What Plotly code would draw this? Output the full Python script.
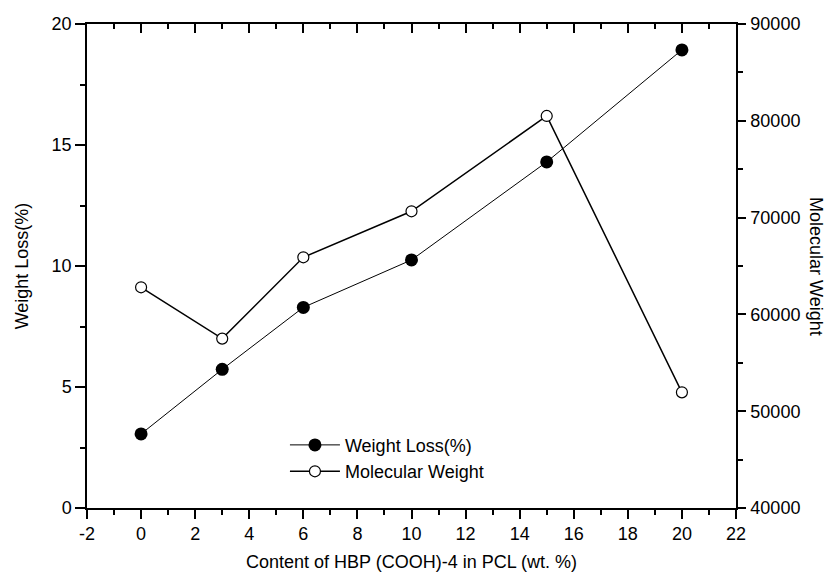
import plotly.graph_objects as go

# HBP (COOH)-4 content in PCL, wt. %
content = [0, 3, 6, 10, 15, 20]
weight_loss = [3.06, 5.73, 8.29, 10.25, 14.3, 18.93]
mol_weight = [62800, 57500, 65900, 70650, 80500, 51950]

# tick labels (plain hyphen for negatives)
x_ticks = [-2, 0, 2, 4, 6, 8, 10, 12, 14, 16, 18, 20, 22]
x_tick_text = ["-2", "0", "2", "4", "6", "8", "10", "12", "14", "16", "18", "20", "22"]
mw_ticks = [40000, 50000, 60000, 70000, 80000, 90000]
mw_tick_text = ["40000", "50000", "60000", "70000", "80000", "90000"]

FONT = "Liberation Sans, Arial, sans-serif"
TICK_FONT = dict(family=FONT, size=18, color="black")
TITLE_FONT = dict(family=FONT, size=18, color="black")
AXIS = dict(showline=True, linecolor="black", linewidth=1.5, showgrid=False,
            zeroline=False, ticks="outside", tickcolor="black", tickwidth=1.5,
            tickfont=TICK_FONT, automargin=False)

fig = go.Figure()
fig.add_trace(go.Scatter(
    x=content, y=weight_loss, name="Weight Loss(%)", mode="lines+markers",
    line=dict(color="black", width=1),
    marker=dict(symbol="circle", size=13, color="black"),
))
fig.add_trace(go.Scatter(
    x=content, y=mol_weight, name="Molecular Weight", mode="lines+markers",
    yaxis="y2",
    line=dict(color="black", width=1.5),
    marker=dict(symbol="circle", size=11, color="white",
                line=dict(color="black", width=1.2)),
))
# top frame edge with inward ticks
fig.add_trace(go.Scatter(x=[None], y=[None], xaxis="x2", showlegend=False,
                         hoverinfo="skip"))

fig.update_layout(
    width=827, height=579,
    margin=dict(l=87, r=91, t=24, b=71),
    paper_bgcolor="white", plot_bgcolor="white",
    font=dict(family=FONT, size=18, color="black"),
    xaxis=dict(**AXIS, range=[-2, 22], tickmode="array", tickvals=x_ticks,
               ticktext=x_tick_text, ticklen=9,
               minor=dict(dtick=1, tick0=0, ticklen=5, ticks="outside",
                          tickcolor="black", tickwidth=1.5),
               title=dict(text="Content of HBP (COOH)-4 in PCL (wt. %)",
                          font=TITLE_FONT, standoff=12)),
    xaxis2=dict(overlaying="x", side="top", range=[-2, 22], dtick=2, tick0=0,
                showline=True, linecolor="black", linewidth=1.5,
                showgrid=False, zeroline=False, ticks="inside", ticklen=9,
                tickcolor="black", tickwidth=1.5, showticklabels=False,
                automargin=False,
                minor=dict(dtick=1, ticklen=5, ticks="inside",
                           tickcolor="black", tickwidth=1.5)),
    yaxis=dict(**AXIS, range=[0, 20], dtick=5, ticklen=10,
               minor=dict(dtick=2.5, ticklen=5, ticks="outside",
                          tickcolor="black", tickwidth=1.5),
               title=dict(text="Weight Loss(%)", font=TITLE_FONT, standoff=18)),
    yaxis2=dict(**AXIS, overlaying="y", side="right", range=[40000, 90000],
                tickmode="array", tickvals=mw_ticks, ticktext=mw_tick_text,
                ticklen=8, ticklabelstandoff=1,
                minor=dict(dtick=5000, tick0=40000, ticklen=5, ticks="outside",
                           tickcolor="black", tickwidth=1.5)),
    legend=dict(x=0.305, y=0.168, xanchor="left", yanchor="top",
                bgcolor="rgba(0,0,0,0)", tracegroupgap=0, itemwidth=50,
                font=dict(family=FONT, size=18, color="black")),
    annotations=[dict(text="Molecular Weight", textangle=90, xref="paper",
                      yref="paper", x=1.0, xanchor="center", xshift=80,
                      y=0.5, showarrow=False, font=TITLE_FONT)],
)

fig.write_html("out.html")
